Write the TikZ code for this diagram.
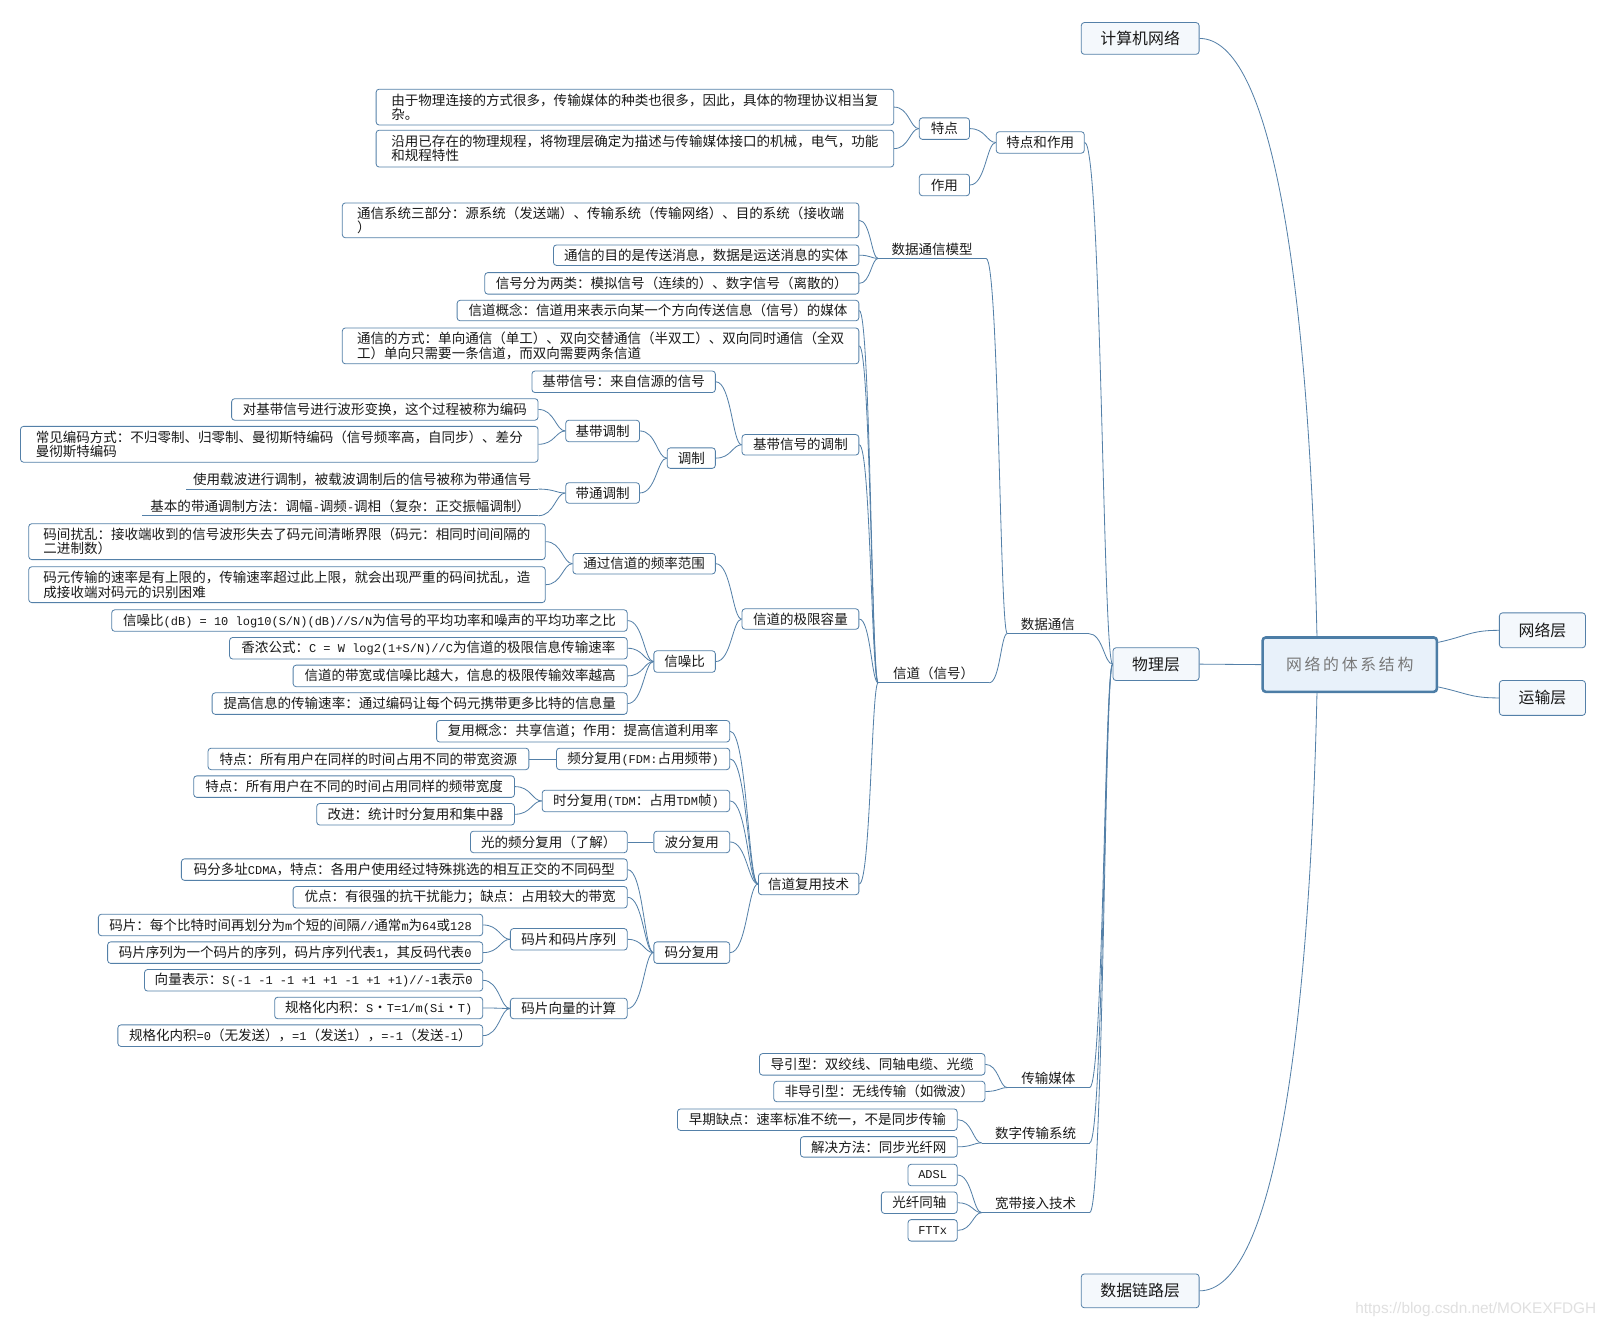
\documentclass[tikz,border=0pt]{standalone}
\usepackage{fontspec}
\setmainfont{Noto Sans CJK SC}
\newfontfamily\amfont{Liberation Mono}
\newfontfamily\rootfont[LetterSpace=17]{Noto Sans CJK SC}
\newfontfamily\wmfont{Liberation Sans}
\usetikzlibrary{calc}
\definecolor{lc}{RGB}{84,128,168}
\definecolor{tc}{RGB}{25,25,25}
\definecolor{topfill}{RGB}{244,248,252}
\definecolor{rootfill}{RGB}{232,241,250}
\definecolor{rootline}{RGB}{76,125,166}
\definecolor{rootgray}{RGB}{120,120,120}
\newcommand\fsm{\fontsize{13.2}{14}\selectfont}
\newcommand\ftp{\fontsize{15.5}{18}\selectfont}
\newcommand\am[1]{{\amfont\fontsize{11.7}{14}\selectfont #1}}
\begin{document}
\begin{tikzpicture}[x=1pt,y=-1pt,
  box/.style={draw=lc, line width=0.8pt, rounded corners=3pt, fill=white, text=tc, font=\fsm, inner xsep=4pt, inner ysep=0pt, align=left},
  topn/.style={box, fill=topfill, font=\ftp},
  rootn/.style={draw=rootline, line width=2.5pt, rounded corners=3pt, fill=rootfill, text=rootgray, font=\rootfont\fontsize{15.5}{18}\selectfont, inner sep=0pt},
  ul/.style={inner sep=0pt, text=tc, font=\fsm},
  sz/.style 2 args={minimum width=#1pt, minimum height=#2pt},
  conn/.style={draw=lc, line width=0.8pt},
  link/.style={to path={let \p1=(\tikztostart), \p2=(\tikztotarget) in .. controls ($(\p1)!0.35!(\x2,\y1)$) and ($(\p2)!0.6!(\x1,\y2)$) .. (\p2)}}
]
\fill[white] (0,0) rectangle (1568,1296);
\useasboundingbox (0,0) rectangle (1568,1296);

% top level
\node[topn, sz={115}{31}] (comp) at (1112.5,37.5) {计算机网络};
\node[rootn, sz={170}{53}] (root) at (1317,648.5) {网络的体系结构};
\node[topn, sz={84}{34}] (net) at (1505,615) {网络层};
\node[topn, sz={84}{34}] (trans) at (1505,681) {运输层};
\node[topn, sz={84}{32}] (phys) at (1128,648) {物理层};
\node[topn, sz={115}{33}] (dl) at (1112.5,1259.5) {数据链路层};

% level 2
\node[box, sz={86}{21}] (tdzy) at (1015,139) {特点和作用};
\node[ul, sz={79}{18}] (sjtx) at (1022.5,609) {数据通信};
\node[ul, sz={80}{18}] (csmt) at (1023,1052) {传输媒体};
\node[ul, sz={105}{18}] (szcs) at (1010.5,1106) {数字传输系统};
\node[ul, sz={105}{18}] (kdjr) at (1010.5,1174) {宽带接入技术};

% 特点和作用
\node[box, sz={49}{21}] (td) at (921.5,125.5) {特点};
\node[box, sz={49}{21}] (zy) at (921.5,180.5) {作用};
\node[box, sz={505}{35}] (td1) at (619.5,104.5) {由于物理连接的方式很多，传输媒体的种类也很多，因此，具体的物理协议相当复\\杂。};
\node[box, sz={505}{36}] (td2) at (619.5,145) {沿用已存在的物理规程，将物理层确定为描述与传输媒体接口的机械，电气，功能\\和规程特性};

% 数据通信
\node[ul, sz={105}{18}] (mx) at (909.5,243) {数据通信模型};
\node[ul, sz={108}{18}] (xd) at (911,657) {信道（信号）};

\node[box, sz={504}{34}] (mx1) at (586,215) {通信系统三部分：源系统（发送端）、传输系统（传输网络）、目的系统（接收端\\）};
\node[box, sz={298}{20}] (mx2) at (689,249) {通信的目的是传送消息，数据是运送消息的实体};
\node[box, sz={365}{21}] (mx3) at (655.5,276.5) {信号分为两类：模拟信号（连续的）、数字信号（离散的）};

\node[box, sz={392}{20}] (xd1) at (642,303) {信道概念：信道用来表示向某一个方向传送信息（信号）的媒体};
\node[box, sz={504}{35}] (xd2) at (586,337.5) {通信的方式：单向通信（单工）、双向交替通信（半双工）、双向同时通信（全双\\工）单向只需要一条信道，而双向需要两条信道};
\node[box, sz={114}{20}] (jdtz) at (781,434) {基带信号的调制};
\node[box, sz={114}{20}] (jxrl) at (781,604) {信道的极限容量};
\node[box, sz={98}{21}] (fyjs) at (789,862.5) {信道复用技术};

% 基带信号的调制
\node[box, sz={179}{21}] (jdxh) at (608.5,372.5) {基带信号：来自信源的信号};
\node[box, sz={47}{20}] (tz) at (674.5,447) {调制};
\node[box, sz={72}{21}] (jdtzz) at (588,420.5) {基带调制};
\node[box, sz={72}{20}] (ddtz) at (588,481) {带通调制};
\node[box, sz={299}{21}] (bm1) at (375.5,399.5) {对基带信号进行波形变换，这个过程被称为编码};
\node[box, sz={505}{35}] (bm2) at (272.5,433.5) {常见编码方式：不归零制、归零制、曼彻斯特编码（信号频率高，自同步）、差分\\曼彻斯特编码};
\node[ul, sz={343}{18}] (dd1) at (353.5,468) {使用载波进行调制，被载波调制后的信号被称为带通信号};
\node[ul, sz={386}{18}] (dd2) at (332,494) {基本的带通调制方法：调幅\am{-}调频\am{-}调相（复杂：正交振幅调制）};

% 信道的极限容量
\node[box, sz={139}{20}] (pl) at (628.5,550) {通过信道的频率范围};
\node[box, sz={60}{21}] (xzb) at (668,645.5) {信噪比};
\node[box, sz={504}{35}] (pl1) at (280,528.5) {码间扰乱：接收端收到的信号波形失去了码元间清晰界限（码元：相同时间间隔的\\二进制数）};
\node[box, sz={504}{35}] (pl2) at (280,570.5) {码元传输的速率是有上限的，传输速率超过此上限，就会出现严重的码间扰乱，造\\成接收端对码元的识别困难};
\node[box, sz={503}{21}] (xz1) at (360.5,605.5) {信噪比\am{(dB) = 10 log10(S/N)(dB)//S/N}为信号的平均功率和噪声的平均功率之比};
\node[box, sz={388}{21}] (xz2) at (418,632.5) {香浓公式：\am{C = W log2(1+S/N)//C}为信道的极限信息传输速率};
\node[box, sz={326}{21}] (xz3) at (449,659.5) {信道的带宽或信噪比越大，信息的极限传输效率越高};
\node[box, sz={405}{21}] (xz4) at (409.5,686.5) {提高信息的传输速率：通过编码让每个码元携带更多比特的信息量};

% 信道复用技术
\node[box, sz={286}{21}] (fy1) at (569,713.5) {复用概念：共享信道；作用：提高信道利用率};
\node[box, sz={169}{21}] (pf) at (627.5,740.5) {频分复用\am{(FDM:}占用频带\am{)}};
\node[box, sz={183}{21}] (sf) at (620.5,781.5) {时分复用\am{(TDM}：占用\am{TDM}帧\am{)}};
\node[box, sz={74}{21}] (bf) at (675,821.5) {波分复用};
\node[box, sz={74}{21}] (mf) at (675,929.5) {码分复用};
\node[box, sz={313}{21}] (pf1) at (359.5,740.5) {特点：所有用户在同样的时间占用不同的带宽资源};
\node[box, sz={313}{21}] (sf1) at (345.5,767.5) {特点：所有用户在不同的时间占用同样的频带宽度};
\node[box, sz={193}{21}] (sf2) at (405.5,794.5) {改进：统计时分复用和集中器};
\node[box, sz={153}{21}] (bf1) at (535.5,821.5) {光的频分复用（了解）};
\node[box, sz={435}{21}] (mf1) at (394.5,848.5) {码分多址\am{CDMA}，特点：各用户使用经过特殊挑选的相互正交的不同码型};
\node[box, sz={326}{21}] (mf2) at (449,875.5) {优点：有很强的抗干扰能力；缺点：占用较大的带宽};
\node[box, sz={114}{21}] (mp) at (555,916.5) {码片和码片序列};
\node[box, sz={114}{20}] (mpjs) at (555,984) {码片向量的计算};
\node[box, sz={375}{21}] (mp1) at (283.5,902.5) {码片：每个比特时间再划分为\am{m}个短的间隔\am{//}通常\am{m}为\am{64}或\am{128}};
\node[box, sz={366}{21}] (mp2) at (288,929.5) {码片序列为一个码片的序列，码片序列代表\am{1}，其反码代表\am{0}};
\node[box, sz={330}{21}] (js1) at (306,956.5) {向量表示：\am{S(-1 -1 -1 +1 +1 -1 +1 +1)//-1}表示\am{0}};
\node[box, sz={203}{21}] (js2) at (369.5,983.5) {规格化内积：\am{S}·\am{T=1/m(Si}·\am{T)}};
\node[box, sz={356}{21}] (js3) at (293,1010.5) {规格化内积\am{=0}（无发送），\am{=1}（发送\am{1}），\am{=-1}（发送\am{-1}）};

% 传输媒体 etc.
\node[box, sz={220}{21}] (cs1) at (851,1038.5) {导引型：双绞线、同轴电缆、光缆};
\node[box, sz={206}{20}] (cs2) at (858,1065) {非导引型：无线传输（如微波）};
\node[box, sz={273}{21}] (sz1) at (797.5,1092.5) {早期缺点：速率标准不统一，不是同步传输};
\node[box, sz={153}{20}] (sz2) at (857.5,1119) {解决方法：同步光纤网};
\node[box, sz={48}{21}] (kd1) at (910,1146.5) {\am{ADSL}};
\node[box, sz={74}{21}] (kd2) at (897,1173.5) {光纤同轴};
\node[box, sz={48}{21}] (kd3) at (910,1200.5) {\am{FTTx}};

\node[font=\wmfont\fontsize{15}{18}\selectfont, text=black!12, inner sep=0pt] (wm) at (1440,1278) {https://blog.csdn.net/MOKEXFDGH};

% underlines
\foreach \u in {sjtx,csmt,szcs,kdjr,mx,xd,dd1,dd2}
  \draw[conn] (\u.south west) -- (\u.south east);

% root connectors
\coordinate (rt) at ($(root.north)+(-32,0)$);
\coordinate (rb) at ($(root.south)+(-32,0)$);
\draw[conn] (rt) .. controls +(-8,-350) and +(70,0) .. (comp.east);
\draw[conn] (rb) .. controls +(-8,350) and +(70,0) .. (dl.east);
\draw[conn] ([yshift=-6pt]root.north east) .. controls +(28,-6) and +(-28,0) .. (net.west);
\draw[conn] ([yshift=6pt]root.south east) .. controls +(28,6) and +(-28,0) .. (trans.west);
\draw[conn] (root.west) -- (phys.east);

% physical layer
\draw[conn] (phys.west) to[link] (tdzy.east);
\draw[conn] (phys.west) to[link] (sjtx.south east);
\draw[conn] (phys.west) to[link] (csmt.south east);
\draw[conn] (phys.west) to[link] (szcs.south east);
\draw[conn] (phys.west) to[link] (kdjr.south east);

\draw[conn] (tdzy.west) to[link] (td.east);
\draw[conn] (tdzy.west) to[link] (zy.east);
\draw[conn] (td.west) to[link] (td1.east);
\draw[conn] (td.west) to[link] (td2.east);

\draw[conn] (sjtx.south west) to[link] (mx.south east);
\draw[conn] (sjtx.south west) to[link] (xd.south east);
\foreach \c in {mx1,mx2,mx3}
  \draw[conn] (mx.south west) to[link] (\c.east);
\foreach \c in {xd1,xd2,jdtz,jxrl,fyjs}
  \draw[conn] (xd.south west) to[link] (\c.east);

\draw[conn] (jdtz.west) to[link] (jdxh.east);
\draw[conn] (jdtz.west) to[link] (tz.east);
\draw[conn] (tz.west) to[link] (jdtzz.east);
\draw[conn] (tz.west) to[link] (ddtz.east);
\draw[conn] (jdtzz.west) to[link] (bm1.east);
\draw[conn] (jdtzz.west) to[link] (bm2.east);
\draw[conn] (ddtz.west) to[link] (dd1.south east);
\draw[conn] (ddtz.west) to[link] (dd2.south east);

\draw[conn] (jxrl.west) to[link] (pl.east);
\draw[conn] (jxrl.west) to[link] (xzb.east);
\draw[conn] (pl.west) to[link] (pl1.east);
\draw[conn] (pl.west) to[link] (pl2.east);
\foreach \c in {xz1,xz2,xz3,xz4}
  \draw[conn] (xzb.west) to[link] (\c.east);

\foreach \c in {fy1,pf,sf,bf,mf}
  \draw[conn] (fyjs.west) to[link] (\c.east);
\draw[conn] (pf.west) -- (pf1.east);
\draw[conn] (sf.west) to[link] (sf1.east);
\draw[conn] (sf.west) to[link] (sf2.east);
\draw[conn] (bf.west) -- (bf1.east);
\foreach \c in {mf1,mf2,mp,mpjs}
  \draw[conn] (mf.west) to[link] (\c.east);
\draw[conn] (mp.west) to[link] (mp1.east);
\draw[conn] (mp.west) to[link] (mp2.east);
\foreach \c in {js1,js2,js3}
  \draw[conn] (mpjs.west) to[link] (\c.east);

\draw[conn] (csmt.south west) to[link] (cs1.east);
\draw[conn] (csmt.south west) to[link] (cs2.east);
\draw[conn] (szcs.south west) to[link] (sz1.east);
\draw[conn] (szcs.south west) to[link] (sz2.east);
\foreach \c in {kd1,kd2,kd3}
  \draw[conn] (kdjr.south west) to[link] (\c.east);
\end{tikzpicture}
\end{document}
